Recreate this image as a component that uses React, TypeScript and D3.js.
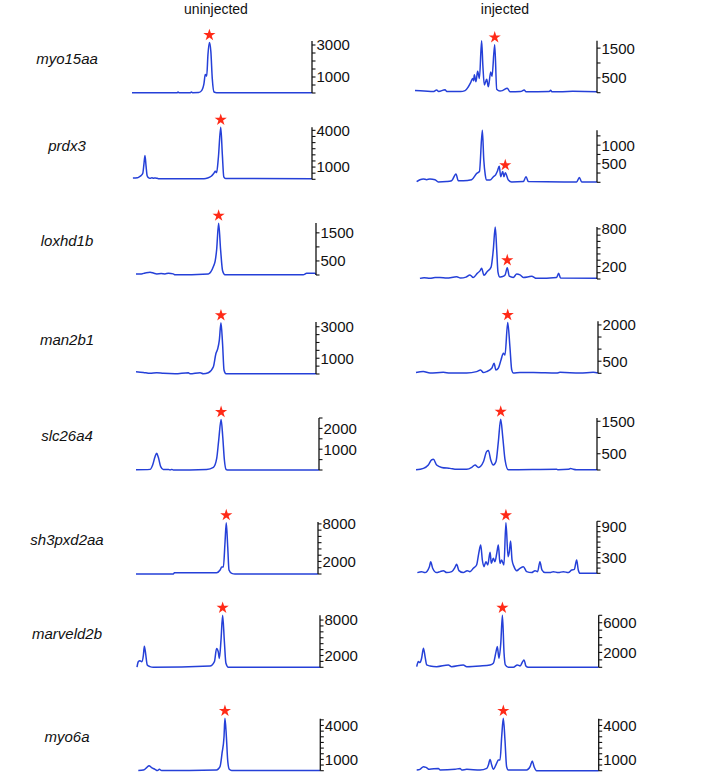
import React from "react";
import * as d3 from "d3";

// ---------- data ----------
const genes = ["myo15aa", "prdx3", "loxhd1b", "man2b1", "slc26a4", "sh3pxd2aa", "marveld2b", "myo6a"];
const conditions = ["uninjected", "injected"];

// traces: [position (0-100 along trace), signal]
const uninjected: [number, number][][] = [
  [[0,20],[25,20],[25.6,60],[26.2,20],[32.5,20],[33,70],[33.6,20],[37,30],[38.7,150],[40,600],[40.7,1150],[41.5,1050],[42.2,2400],[43,3150],[43.8,2600],[44.6,900],[45.6,60],[47,20],[100,20]],
  [[0.5,100],[3,130],[4,200],[5,300],[6,500],[6.6,1200],[7.2,1950],[7.8,1100],[8.4,300],[9,150],[10,80],[11,120],[12,90],[13,110],[14,80],[15,50],[40,50],[42,100],[44,250],[45.5,500],[46.3,650],[47,550],[48,1800],[49.3,4250],[50.2,2000],[51,200],[52,60],[100,50]],
  [[0,40],[3,40],[5,70],[7.8,100],[10,60],[11.5,40],[14,50],[16.1,40],[18,60],[20.7,40],[21.7,10],[40.2,40],[43,300],[44,500],[44.8,900],[45.9,1845],[47,900],[48.1,150],[49.4,10],[92.9,10],[94.8,60],[99.4,60],[100,10]],
  [[0,150],[4.1,100],[7.8,40],[11.5,80],[15.2,40],[21.7,10],[29.1,80],[30,10],[35.6,80],[37.4,10],[40.2,80],[43,460],[44.4,1300],[45.4,1600],[46.3,2150],[47.2,3250],[48.1,1900],[48.9,250],[50,10],[100,10]],
  [[0,10],[7.7,30],[9.1,240],[10.4,640],[11.3,800],[12.2,610],[13.5,160],[14.9,30],[17.7,30],[18.6,5],[19.5,30],[20.4,5],[38.6,30],[42.3,130],[44.1,560],[45.2,1440],[46.5,2430],[47.4,1600],[48.3,480],[49.2,30],[49.9,5],[100,5]],
  [[0,10],[20.5,10],[21.1,200],[44.3,200],[46.2,640],[47.1,1100],[48,1100],[48.9,5000],[49.6,8200],[50.4,4300],[51.1,640],[52.6,100],[54.4,10],[100,10]],
  [[0,10],[0.7,950],[1.6,1120],[2.6,950],[3.5,2070],[4,3580],[4.7,2350],[5.6,390],[7.1,110],[8.9,10],[39.9,220],[42.3,950],[43.5,3190],[44.4,2630],[45,1510],[45.9,4590],[46.8,8800],[47.7,4590],[48.6,670],[49.9,10],[100,10]],
  [[0,10],[2.8,60],[4.6,265],[5.9,440],[7.3,265],[9.2,120],[10.5,10],[11.6,120],[12.8,10],[43,60],[44.9,355],[46,1530],[47.1,3010],[47.6,4630],[48.4,3010],[49.1,945],[50,120],[51.3,10],[100,10]],
];

const injected: [number, number][][] = [
  [[0,70],[5,60],[10,40],[11.9,90],[13,40],[16.5,100],[17.5,40],[25,40],[27.5,70],[29.3,200],[30.5,330],[31.7,480],[32.2,400],[32.6,600],[33.5,370],[34.4,720],[35.4,480],[36.6,1750],[37.3,900],[38.1,260],[39.4,450],[40.3,200],[41.6,700],[42.3,550],[43.8,1610],[44.9,120],[46.7,60],[48,70],[50.7,150],[52.2,30],[58,40],[60,90],[61,30],[73.8,40],[74.5,80],[75.2,35],[81.1,35],[86.6,45],[93.4,40],[100,30]],
  [[0.9,20],[2.7,70],[4.6,90],[6.4,70],[8.2,90],[11,70],[12.8,10],[17.4,20],[20.1,40],[22.5,225],[23.8,40],[26.6,40],[31.1,70],[33.9,240],[35.4,290],[37,1400],[37.8,600],[38.6,200],[39.4,60],[41.2,60],[43.1,150],[44.3,200],[45.2,290],[46.3,430],[47.1,150],[48.2,290],[48.9,150],[49.6,260],[51.3,60],[53.1,10],[59.5,20],[61,150],[62.3,20],[88.8,10],[90.3,130],[91.6,10],[100,10]],
  [[2.7,10],[5,20],[8.2,10],[11,25],[13.7,25],[17.4,15],[22.9,35],[25,15],[28,30],[30.2,65],[32,25],[34.2,90],[35.7,130],[36.6,170],[37.9,60],[39.7,120],[41.8,190],[43,460],[44.1,830],[44.9,460],[45.6,110],[46.6,30],[47.6,35],[49.5,65],[50.7,180],[51.8,45],[54,25],[55.9,80],[57.7,65],[59.5,25],[62.3,35],[64.1,45],[66.8,10],[77.8,25],[78.9,90],[80,15],[100,10]],
  [[0,30],[4,70],[7.7,10],[15,40],[18.7,10],[27.8,10],[33.3,70],[35.5,140],[37,30],[38.8,70],[41.6,207],[42.9,415],[43.9,140],[45.2,207],[46.7,550],[48,830],[48.9,760],[50.4,2100],[51.6,1100],[52.6,140],[53.5,10],[57.1,30],[64.5,30],[77.3,10],[79.1,40],[90.1,10],[97.4,40],[100,10]],
  [[0,5],[4.1,50],[6.8,155],[8.6,310],[9.6,330],[11.4,155],[14.2,80],[18.8,50],[22.5,20],[28,20],[30.8,80],[32.6,155],[34.5,80],[37.3,260],[39,565],[40,600],[41.3,310],[42.7,155],[44.2,260],[45.5,875],[46.8,1565],[47.9,1030],[49.2,310],[51,5],[77.7,20],[78.6,5],[84.2,20],[85.4,50],[86.9,20],[88.7,5],[100,5]],
  [[0.2,13],[2.6,32],[4.4,13],[6.9,128],[7.6,224],[8.7,96],[10.9,13],[12.8,32],[14.6,51],[16.5,13],[19.3,32],[21.1,115],[22,173],[23.3,51],[25.7,13],[27.9,51],[29.4,32],[31.3,96],[33.1,160],[34.3,384],[35.4,544],[36.3,256],[37.2,128],[38.3,224],[39.3,160],[40.6,403],[41.3,192],[42.4,288],[43.3,224],[44.3,384],[45.2,544],[46.1,192],[47,256],[48.3,160],[49.4,973],[50.6,320],[51.3,416],[52,621],[52.8,256],[53.9,128],[55.4,51],[57.2,96],[59.1,128],[60.9,32],[63.7,13],[65.6,51],[67,32],[68.3,224],[69.4,64],[71.1,13],[73.9,13],[75.7,32],[78.5,13],[81.3,32],[84.1,13],[85.9,64],[87.4,77],[88.7,255],[89.6,64],[90.6,0],[100,0]],
  [[0,90],[0.9,765],[1.8,630],[2.7,1215],[3.7,2565],[4.6,1440],[5.5,315],[7.3,180],[11,90],[17.4,315],[19.2,90],[25.6,315],[27.5,90],[34.8,180],[40.3,315],[42.1,540],[43.6,2115],[44.3,2790],[45.2,1215],[46.2,3240],[47.1,7000],[48,1890],[48.7,315],[50.3,0],[53.1,0],[55.3,315],[56.8,180],[58.2,765],[59,990],[60,180],[61.3,0],[100,0]],
  [[0,60],[1.8,120],[3.7,355],[5.1,295],[7,120],[11.9,205],[12.8,60],[21.1,120],[23.8,205],[24.7,60],[27.5,120],[34.8,60],[38.5,205],[39.4,500],[40.3,1000],[41.2,500],[42.1,120],[43.9,650],[44.9,945],[45.8,945],[46.7,3010],[47.6,4630],[48.5,2710],[49.4,355],[50.3,60],[60.4,60],[62.3,355],[63.5,855],[64.5,355],[65.9,0],[100,0]],
];

// starred peak positions
const starUninjected = [43, 49.3, 45.9, 47.2, 46.5, 49.6, 46.8, 47.6];
const starInjected = [43.8, 49.6, 50.7, 50.4, 46.8, 49.4, 47.1, 47.6];

// axis maxima, labelled ticks, minor tick step
const maxUninjected = [3250, 4250, 1850, 3300, 2500, 8300, 8800, 4600];
const maxInjected = [1750, 1400, 830, 2150, 1600, 1000, 7000, 4600];
const labelsUninjected = [[1000, 3000], [1000, 4000], [500, 1500], [1000, 3000], [1000, 2000], [2000, 8000], [2000, 8000], [1000, 4000]];
const labelsInjected = [[500, 1500], [500, 1000], [200, 800], [500, 2000], [500, 1500], [300, 900], [2000, 6000], [1000, 4000]];
const stepUninjected = [500, 500, 500, 500, 500, 1000, 1000, 500];
const stepInjected = [500, 250, 100, 500, 500, 100, 1000, 500];

// ---------- layout ----------
const W = 724, H = 779;
const PANEL_H = 52;
const baseL = [93, 179.3, 275, 374, 470, 574, 667.3, 770.7];
const baseR = [92.7, 182.3, 279, 373.3, 470, 573.3, 667.3, 770.7];
const x0L = [132, 132, 136, 136, 136, 136, 137, 138.3];
const wL = [180, 180, 180, 180, 183, 182, 183, 182];
const x0R = [415, 415, 415, 416, 416, 417, 416.7, 416.7];
const wR = [182, 182, 182, 182, 181, 180, 182, 182];

const BLUE = "#2540d8";
const RED = "#ff2a17";
const FONT = "'Liberation Sans', Arial, Helvetica, sans-serif";

function Panel({ data, x0, w, base, max, labels, step, star }: any) {
  const x = d3.scaleLinear().domain([0, 100]).range([x0, x0 + w]);
  const y = d3.scaleLinear().domain([0, max]).range([base, base - PANEL_H]);
  const line = d3.line<[number, number]>().x(d => x(d[0])).y(d => y(d[1])).curve(d3.curveMonotoneX);
  const ticks = d3.range(0, max + 1e-6, step);
  const ax = x0 + w;
  const sp = data.reduce((a: [number, number], b: [number, number]) => Math.abs(b[0] - star) < Math.abs(a[0] - star) ? b : a);
  const starPath = d3.symbol().type(d3.symbolStar).size(46)() as string;
  return (
    <g>
      <path d={line(data) as string} fill="none" stroke={BLUE} strokeWidth={1.5} strokeLinejoin="round" />
      <line x1={ax} x2={ax} y1={y(0)} y2={y(max)} stroke="#111" strokeWidth={1.3} />
      {ticks.map((t: number) => (
        <line key={t} x1={ax} x2={ax + 3.5} y1={y(t)} y2={y(t)} stroke="#111" strokeWidth={1.1} />
      ))}
      {labels.map((t: number) => (
        <text key={"l" + t} x={ax + 4.5} y={y(t)} dy="0.36em" fontSize={15} fontFamily={FONT} fill="#111">{t}</text>
      ))}
      <path d={starPath} transform={`translate(${x(sp[0])},${y(sp[1]) - 7.5})`} fill={RED} />
    </g>
  );
}

export default function App() {
  return (
    <svg width={W} height={H} style={{ position: "absolute", left: 0, top: 0, background: "#fff" }}>
      <rect width={W} height={H} fill="#fff" />
      <text x={216} y={14} textAnchor="middle" fontSize={14} fontFamily={FONT} fill="#111">{conditions[0]}</text>
      <text x={505} y={14} textAnchor="middle" fontSize={14} fontFamily={FONT} fill="#111">{conditions[1]}</text>
      {genes.map((g, i) => (
        <g key={g}>
          <text x={67} y={baseL[i] - 34} dy="0.36em" textAnchor="middle" fontSize={15} fontStyle="italic" fontFamily={FONT} fill="#111">{g}</text>
          <Panel data={uninjected[i]} x0={x0L[i]} w={wL[i]} base={baseL[i]} max={maxUninjected[i]} labels={labelsUninjected[i]} step={stepUninjected[i]} star={starUninjected[i]} />
          <Panel data={injected[i]} x0={x0R[i]} w={wR[i]} base={baseR[i]} max={maxInjected[i]} labels={labelsInjected[i]} step={stepInjected[i]} star={starInjected[i]} />
        </g>
      ))}
    </svg>
  );
}
